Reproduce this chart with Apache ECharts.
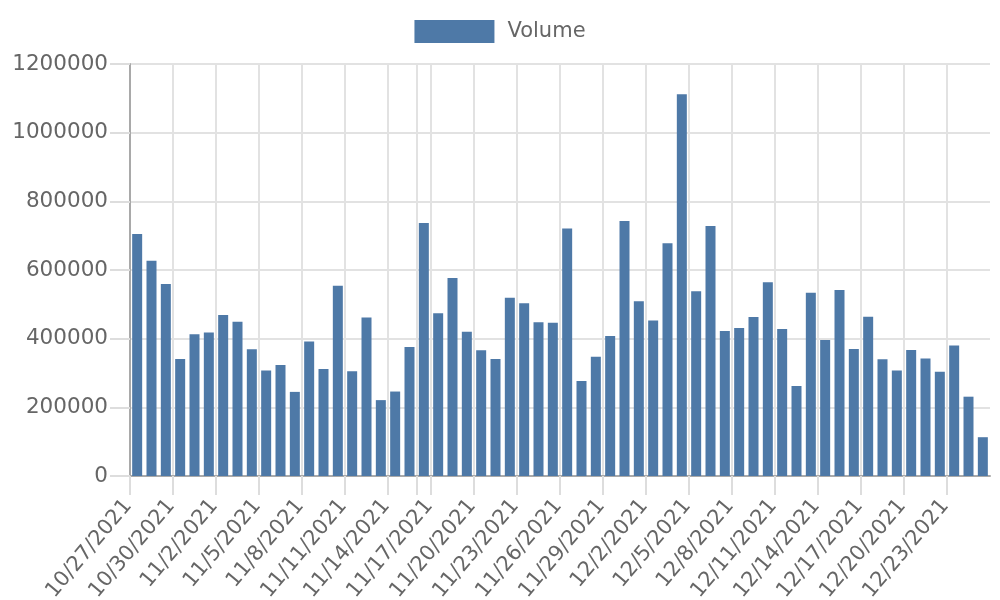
<!DOCTYPE html>
<html>
<head>
<meta charset="utf-8">
<script src="https://cdn.jsdelivr.net/npm/echarts@6/dist/echarts.min.js"></script>
<style>
html,body{margin:0;padding:0;background:#fff;}
#chart{width:1000px;height:600px;}
</style>
</head>
<body>
<div id="chart"></div>
<script>
var categories = [
 '10/27/2021','10/28/2021','10/29/2021','10/30/2021','10/31/2021',
 '11/1/2021','11/2/2021','11/3/2021','11/4/2021','11/5/2021','11/6/2021','11/7/2021','11/8/2021','11/9/2021','11/10/2021',
 '11/11/2021','11/12/2021','11/13/2021','11/14/2021','11/15/2021','11/16/2021','11/17/2021','11/18/2021','11/19/2021','11/20/2021',
 '11/21/2021','11/22/2021','11/23/2021','11/24/2021','11/25/2021','11/26/2021','11/27/2021','11/28/2021','11/29/2021','11/30/2021',
 '12/1/2021','12/2/2021','12/3/2021','12/4/2021','12/5/2021','12/6/2021','12/7/2021','12/8/2021','12/9/2021','12/10/2021',
 '12/11/2021','12/12/2021','12/13/2021','12/14/2021','12/15/2021','12/16/2021','12/17/2021','12/18/2021','12/19/2021','12/20/2021',
 '12/21/2021','12/22/2021','12/23/2021','12/24/2021','12/25/2021'
];
var volume = [
 705000, 627000, 559000, 341000, 413000, 418000, 469000, 449000, 369000, 307000,
 323000, 245000, 392000, 312000, 554000, 305000, 462000, 221000, 246000, 376000,
 737000, 474000, 577000, 420000, 366000, 341000, 519000, 503000, 448000, 446000,
 721000, 277000, 347000, 408000, 743000, 509000, 453000, 678000, 1112000, 538000,
 728000, 422000, 431000, 463000, 564000, 428000, 262000, 534000, 396000, 542000,
 370000, 464000, 340000, 307000, 367000, 342000, 304000, 380000, 231000, 113000
];
var tickLabels = categories.concat(['']);
var yTicks = { min: 0, max: 1200000, interval: 200000 };

var FONT = 'DejaVu Sans';
var n = categories.length;
function showLabel(i) { return i % 3 === 0 && i < n; }
function showTick(i) { return (i % 3 === 0 || i === 20) && i < n; }
function showSplit(i) { return (i % 3 === 0 || i === 20) && i > 0 && i < n; }

var chart = echarts.init(document.getElementById('chart'), null, { renderer: 'canvas' });
chart.setOption({
  animation: false,
  backgroundColor: '#ffffff',
  textStyle: { fontFamily: FONT },
  legend: {
    top: 15,
    left: 'center',
    itemWidth: 80,
    itemHeight: 23,
    icon: 'rect',
    textStyle: { fontFamily: FONT, fontSize: 21, color: '#666666', padding: [0, 0, 0, 8] },
    data: ['Volume']
  },
  grid: { left: 130, right: 10, top: 64, bottom: 124, containLabel: false, outerBoundsMode: 'none' },
  xAxis: [
    {
      type: 'category',
      data: tickLabels,
      boundaryGap: false,
      position: 'bottom',
      axisLine: { show: true, lineStyle: { color: '#a9a9a9', width: 2 } },
      axisTick: { show: true, length: 19, interval: function (i) { return showTick(i); }, lineStyle: { color: '#dddddd', width: 2 } },
      splitLine: { show: true, interval: function (i) { return showSplit(i); }, lineStyle: { color: '#e2e2e2', width: 2 } },
      axisLabel: {
        interval: function (i) { return showLabel(i); },
        rotate: 50,
        margin: 24,
        padding: [25, 3, 0, 0],
        fontFamily: FONT,
        fontSize: 21,
        color: '#666666'
      }
    },
    {
      type: 'category',
      data: categories,
      boundaryGap: true,
      position: 'top',
      show: false
    }
  ],
  yAxis: {
    type: 'value',
    min: yTicks.min,
    max: yTicks.max,
    interval: yTicks.interval,
    axisLine: { show: true, lineStyle: { color: '#a9a9a9', width: 2 } },
    axisTick: { show: true, length: 20, lineStyle: { color: '#dddddd', width: 2 } },
    splitLine: { show: true, lineStyle: { color: '#e2e2e2', width: 2 } },
    axisLabel: {
      margin: 22, fontFamily: FONT, fontSize: 21.5, color: '#666666',
      formatter: function (v) { return String(v); }
    }
  },
  series: [{
    name: 'Volume',
    type: 'bar',
    xAxisIndex: 1,
    data: volume,
    barWidth: 10,
    itemStyle: { color: '#4e79a7' }
  }]
});
</script>
</body>
</html>
